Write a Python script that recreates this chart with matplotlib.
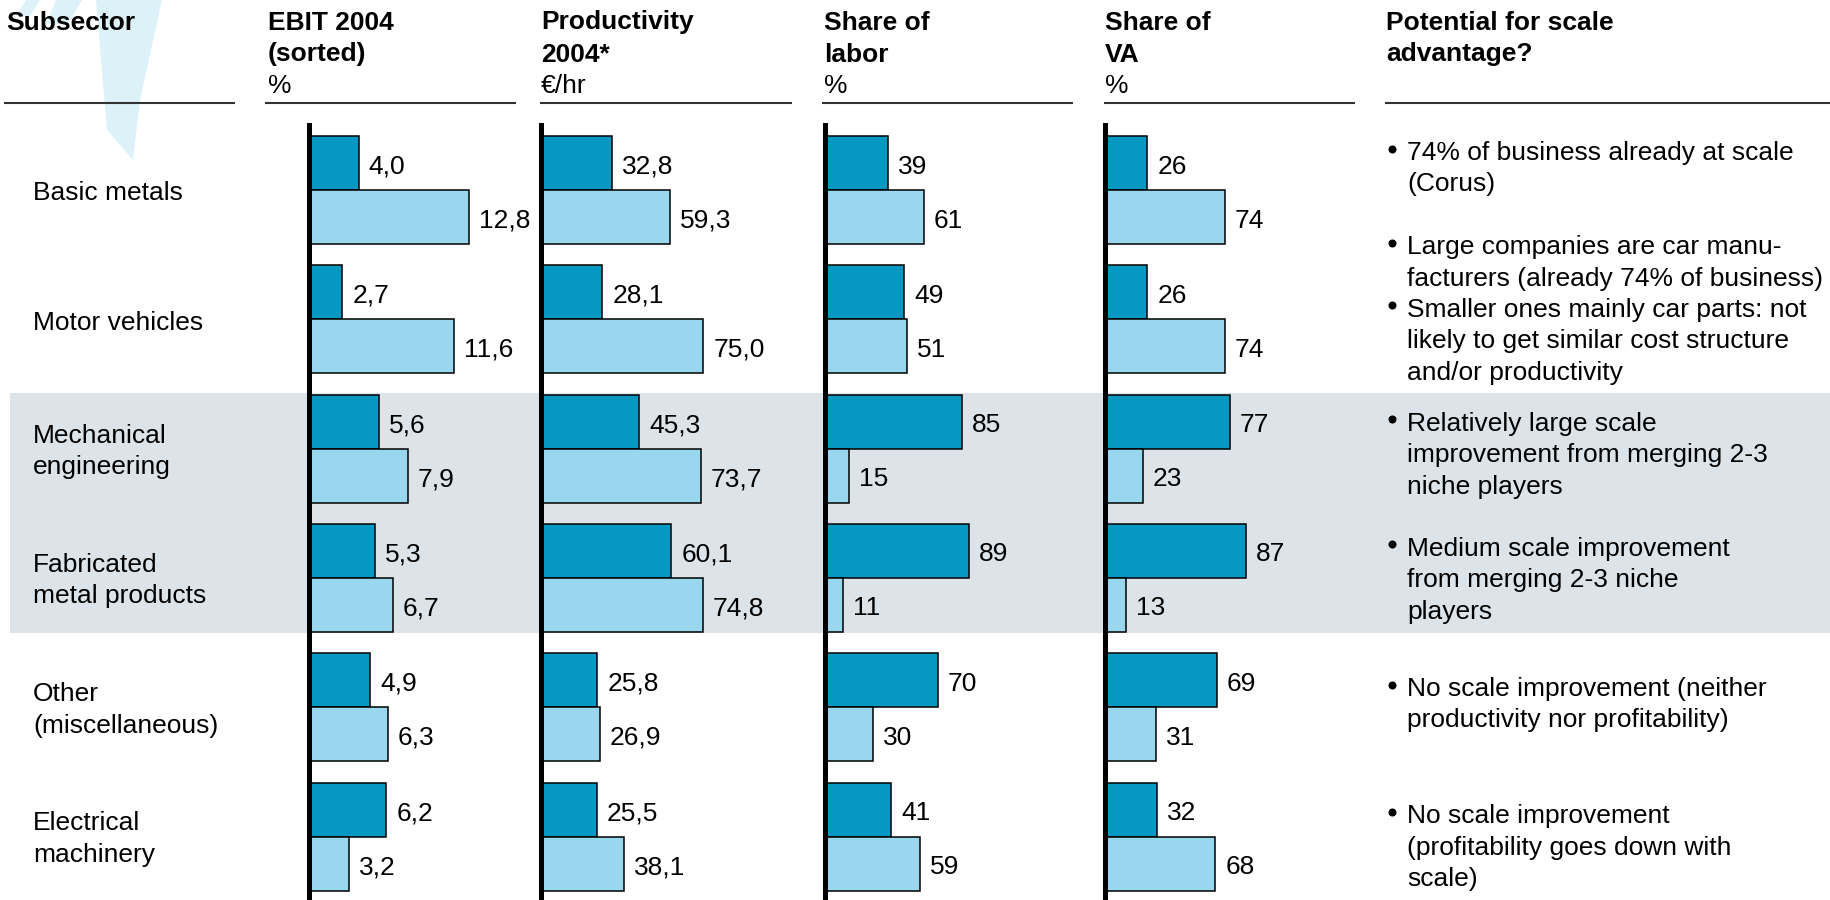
import matplotlib
matplotlib.use("Agg")
import matplotlib.pyplot as plt
from matplotlib.patches import Polygon, Rectangle

plt.rcParams['font.family'] = ['Liberation Sans', 'DejaVu Sans']

# ---------------- data ----------------
subsectors = ["Basic metals", "Motor vehicles", "Mechanical\nengineering",
              "Fabricated\nmetal products", "Other\n(miscellaneous)",
              "Electrical\nmachinery"]

ebit_small = [4.0, 2.7, 5.6, 5.3, 4.9, 6.2]
ebit_large = [12.8, 11.6, 7.9, 6.7, 6.3, 3.2]

prod_small = [32.8, 28.1, 45.3, 60.1, 25.8, 25.5]
prod_large = [59.3, 75.0, 73.7, 74.8, 26.9, 38.1]

labor_small = [39, 49, 85, 89, 70, 41]
labor_large = [61, 51, 15, 11, 30, 59]

va_small = [26, 26, 77, 87, 69, 32]
va_large = [74, 74, 23, 13, 31, 68]

header_titles = ["Subsector", "EBIT 2004\n(sorted)", "Productivity\n2004*",
                 "Share of\nlabor", "Share of\nVA", "Potential for scale\nadvantage?"]
header_units = [None, "%", "\u20ac/hr", "%", "%", None]

notes = [
    ["74% of business already at scale", "(Corus)"],
    ["Large companies are car manu-", "facturers (already 74% of business)"],
    ["Smaller ones mainly car parts: not", "likely to get similar cost structure",
     "and/or productivity"],
    ["Relatively large scale", "improvement from merging 2-3", "niche players"],
    ["Medium scale improvement", "from merging 2-3 niche", "players"],
    ["No scale improvement (neither", "productivity nor profitability)"],
    ["No scale improvement", "(profitability goes down with", "scale)"],
]

# ---------------- layout / style ----------------
W, H = 1831, 900
DARK = "#0598C2"
LIGHT = "#99D7EE"
BAND = "#DCE4EA"
WATER = "#DDF1F9"
FS = 19

row_top_px = 190.0        # dark/light boundary of the first row
row_pitch_px = 129.3
bar_px = 54.0
axis_top_px = 125.0
line_pitch = 31.5

fig = plt.figure(figsize=(W / 100, H / 100), dpi=100)
fig.patch.set_facecolor("white")

# background canvas in pixel units for text, rules and shading
bg = fig.add_axes([0, 0, 1, 1], zorder=0)
bg.set_xlim(0, W)
bg.set_ylim(H, 0)
bg.axis("off")

# decorative watermark
bg.add_patch(Polygon([(96, 0), (162, 0), (140, 100), (133, 160), (107, 130), (101, 60)],
                     closed=True, facecolor=WATER, edgecolor="none"))
bg.add_patch(Polygon([(26, 0), (40, 0), (30, 16), (17, 16)],
                     closed=True, facecolor=WATER, edgecolor="none"))
bg.add_patch(Polygon([(56, 0), (82, 0), (68, 24), (46, 24)],
                     closed=True, facecolor=WATER, edgecolor="none"))

# shaded band behind the two highlighted subsectors
bg.add_patch(Rectangle((10, 393.3), W - 10, 240, facecolor=BAND, edgecolor="none"))

# column headers with rules underneath
header_x = [6, 268, 541, 824, 1105, 1386]
rules = [(4, 235), (265, 516), (540, 792), (822, 1073), (1104, 1355), (1385, W)]
for x, title, unit in zip(header_x, header_titles, header_units):
    for k, line in enumerate(title.split("\n")):
        bg.text(x, 29.5 + k * 32, line, fontsize=FS, fontweight="bold",
                ha="left", va="baseline")
    if unit:
        bg.text(x, 93, unit, fontsize=FS, ha="left", va="baseline")
for x0, x1 in rules:
    bg.plot([x0, x1], [103, 103], color="#333333", lw=1.5, solid_capstyle="butt")

# subsector labels
for i, name in enumerate(subsectors):
    c = row_top_px + i * row_pitch_px
    lines = name.split("\n")
    if len(lines) == 1:
        bg.text(33, c + 10.5, lines[0], fontsize=FS, va="baseline")
    else:
        for k, line in enumerate(lines):
            bg.text(33, c - 6 + k * line_pitch, line, fontsize=FS, va="baseline")

# commentary bullets
note_baselines = [160, 254.3, 316.7, 430.7, 555.7, 696, 823]
for lines, y0 in zip(notes, note_baselines):
    bg.plot([1392], [y0 - 11.5], marker="o", markersize=5.8, color="black",
            markeredgewidth=0)
    for k, line in enumerate(lines):
        bg.text(1407, y0 + k * line_pitch, line, fontsize=FS, va="baseline")

# ---------------- bar panels ----------------
panels = [
    (ebit_small, ebit_large, 308.5, 12.55, "{:.1f}"),
    (prod_small, prod_large, 541.5, 2.16, "{:.1f}"),
    (labor_small, labor_large, 825.0, 1.615, "{:.0f}"),
    (va_small, va_large, 1105.5, 1.615, "{:.0f}"),
]
panel_w = 230
n = len(subsectors)
h = bar_px / row_pitch_px
y_top = (axis_top_px - row_top_px) / row_pitch_px
y_bot = (H - row_top_px) / row_pitch_px

for small, large, x0, scale, fmt in panels:
    ax = fig.add_axes([x0 / W, 0, panel_w / W, (H - axis_top_px) / H], zorder=2)
    ax.patch.set_visible(False)
    ax.set_xlim(0, panel_w / scale)
    ax.set_ylim(y_bot, y_top)
    rows = list(range(n))
    b1 = ax.barh([r - h / 2 for r in rows], small, height=h, color=DARK,
                 edgecolor="black", linewidth=1.1, zorder=2)
    b2 = ax.barh([r + h / 2 for r in rows], large, height=h, color=LIGHT,
                 edgecolor="black", linewidth=1.1, zorder=2)
    for bars, vals in ((b1, small), (b2, large)):
        for rect, v in zip(bars, vals):
            yc = rect.get_y() + rect.get_height() / 2
            ax.annotate(fmt.format(v).replace(".", ","), xy=(v, yc),
                        xytext=(10, -10.5), textcoords="offset pixels",
                        fontsize=FS, ha="left", va="baseline",
                        annotation_clip=False)
    for s in ("top", "right", "bottom"):
        ax.spines[s].set_visible(False)
    ax.spines["left"].set_linewidth(3.6)
    ax.spines["left"].set_color("black")
    ax.spines["left"].set_zorder(3)
    ax.set_xticks([])
    ax.set_yticks([])

fig.savefig("out.png", dpi=100, facecolor="white")
